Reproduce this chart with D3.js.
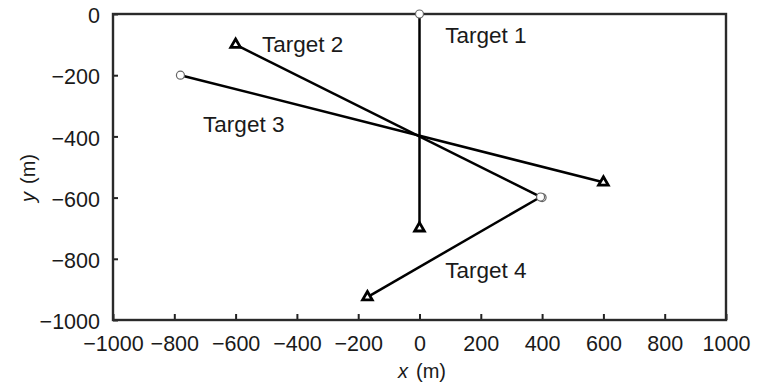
<!DOCTYPE html>
<html>
<head>
<meta charset="utf-8">
<script src="https://cdn.jsdelivr.net/npm/d3@7"></script>
<style>
  body { margin: 0; background: #fff; }
  text { font-family: "Liberation Sans", Arial, sans-serif; fill: #1a1a1a; }
</style>
</head>
<body>
<svg id="chart" width="766" height="386"></svg>
<script>
// Target tracks: each moves from a start point (circle) to an end point (triangle), in metres
const targetNames = ["Target 1", "Target 2", "Target 3", "Target 4"];
const startX = [0, 400, -780, 395];
const startY = [0, -600, -200, -598];
const endX   = [0, -600, 600, -170];
const endY   = [-700, -100, -550, -925];

// Anchor of each target's label, in metres
const labelX = [84, -514, -706, 84];
const labelY = [-95, -124, -384, -863];

const xTicks = [-1000, -800, -600, -400, -200, 0, 200, 400, 600, 800, 1000];
const yTicks = [0, -200, -400, -600, -800, -1000];

const svg = d3.select("#chart");
const x = d3.scaleLinear().domain([-1000, 1000]).range([113, 726]);
const y = d3.scaleLinear().domain([-1000, 0]).range([320, 14]);

const tracks = targetNames.map((name, i) => ({
  name,
  x0: startX[i], y0: startY[i],
  x1: endX[i], y1: endY[i],
  lx: labelX[i], ly: labelY[i]
}));

const fmt = d3.format("d");

// Axes with inward ticks
const xAxis = svg.append("g")
  .attr("transform", `translate(0,${y(-1000)})`)
  .call(d3.axisBottom(x).tickValues(xTicks).tickFormat(fmt)
    .tickSizeInner(-6).tickSizeOuter(0).tickPadding(16));
const yAxis = svg.append("g")
  .attr("transform", `translate(${x(-1000)},0)`)
  .call(d3.axisLeft(y).tickValues(yTicks).tickFormat(fmt)
    .tickSizeInner(-5).tickSizeOuter(0).tickPadding(13));

[xAxis, yAxis].forEach(g => {
  g.select(".domain").remove();
  g.selectAll(".tick line").attr("stroke", "#222").attr("stroke-width", 2);
  g.selectAll(".tick text")
    .style("font-size", "21.5px")
    .attr("fill", "#1a1a1a");
});
yAxis.selectAll(".tick text").attr("dy", "0.40em");

// Plot frame
svg.append("rect")
  .attr("x", x(-1000)).attr("y", y(0))
  .attr("width", x(1000) - x(-1000))
  .attr("height", y(-1000) - y(0))
  .attr("fill", "none")
  .attr("stroke", "#2a2a2a")
  .attr("stroke-width", 2.4);

// Track lines
svg.append("g").selectAll("line")
  .data(tracks).join("line")
  .attr("x1", d => x(d.x0)).attr("y1", d => y(d.y0))
  .attr("x2", d => x(d.x1)).attr("y2", d => y(d.y1))
  .attr("stroke", "#000")
  .attr("stroke-width", 2.5);

// Start points
svg.append("g").selectAll("circle")
  .data(tracks).join("circle")
  .attr("cx", d => x(d.x0)).attr("cy", d => y(d.y0))
  .attr("r", 4)
  .attr("fill", "#fff")
  .attr("stroke", "#666")
  .attr("stroke-width", 1.2);

// End points
const tri = d3.symbol().type(d3.symbolTriangle).size(40);
svg.append("g").selectAll("path")
  .data(tracks).join("path")
  .attr("transform", d => `translate(${x(d.x1)},${y(d.y1)})`)
  .attr("d", tri)
  .attr("fill", "#fff")
  .attr("stroke", "#000")
  .attr("stroke-width", 2.8)
  .attr("stroke-linejoin", "miter");

// Target labels
svg.append("g").selectAll("text")
  .data(tracks).join("text")
  .attr("x", d => x(d.lx)).attr("y", d => y(d.ly))
  .style("font-size", "22.5px")
  .text(d => d.name);

// Axis titles
const xTitle = svg.append("text")
  .attr("x", 398).attr("y", 378)
  .style("font-size", "20px");
xTitle.append("tspan").style("font-style", "italic").text("x");
xTitle.append("tspan").attr("dx", 8).text("(m)");

const yTitle = svg.append("text")
  .attr("transform", "translate(35,178) rotate(-90)")
  .attr("text-anchor", "middle")
  .style("font-size", "20px");
yTitle.append("tspan").style("font-style", "italic").text("y");
yTitle.append("tspan").attr("dx", 8).text("(m)");
</script>
</body>
</html>
